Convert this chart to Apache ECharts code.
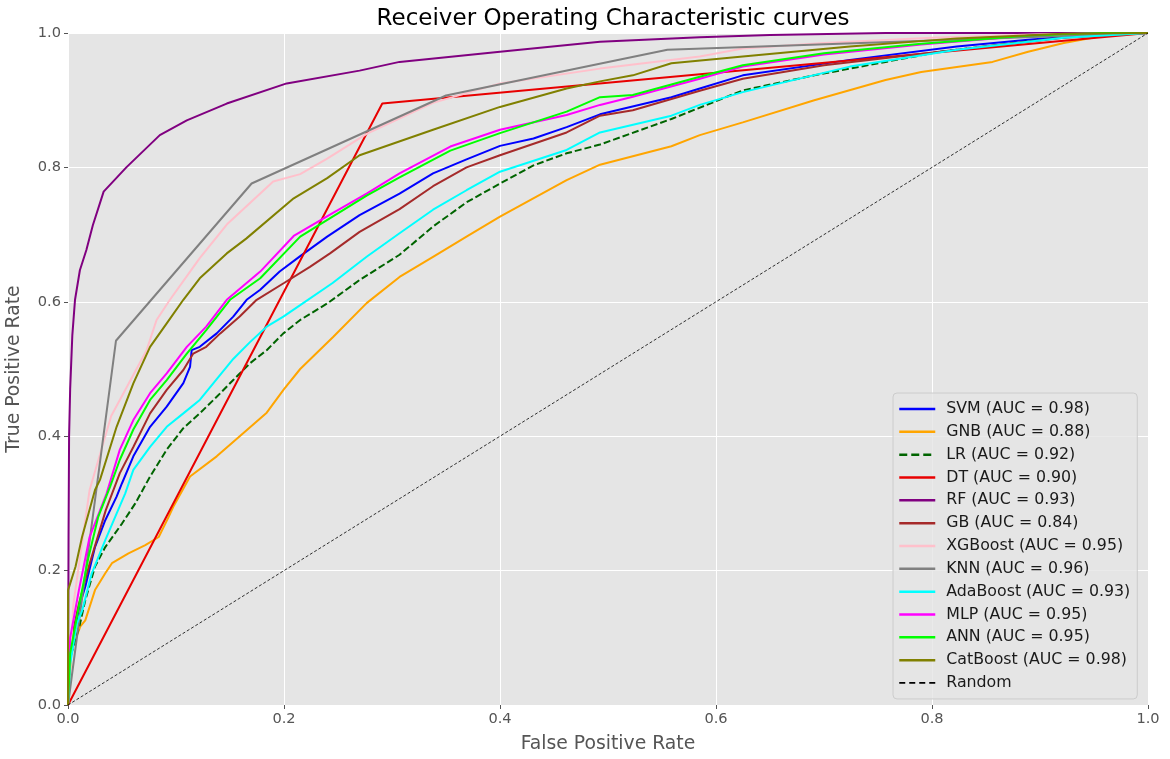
<!DOCTYPE html>
<html>
<head>
<meta charset="utf-8">
<script src="https://cdn.jsdelivr.net/npm/echarts@6/dist/echarts.min.js"></script>
<style>
  html, body { margin: 0; padding: 0; background: #ffffff; }
  #chart { width: 1170px; height: 759px; }
</style>
</head>
<body>
<div id="chart"></div>
<script>
const chartTitle = 'Receiver Operating Characteristic curves';
const xAxisTitle = 'False Positive Rate';
const yAxisTitle = 'True Positive Rate';
const tickValues = [0, 0.2, 0.4, 0.6, 0.8, 1.0];

const modelNames = ['SVM', 'GNB', 'LR', 'DT', 'RF', 'GB', 'XGBoost', 'KNN', 'AdaBoost', 'MLP', 'ANN', 'CatBoost'];
const aucValues = [0.98, 0.88, 0.92, 0.90, 0.93, 0.84, 0.95, 0.96, 0.93, 0.95, 0.95, 0.98];

const svmFpr = [0, 0.002, 0.011, 0.016, 0.025, 0.0345, 0.045, 0.05, 0.0605, 0.076, 0.0914, 0.1068, 0.113, 0.1145, 0.122, 0.1377, 0.153, 0.1654, 0.178, 0.196, 0.215, 0.24, 0.27, 0.307, 0.338, 0.369, 0.4, 0.431, 0.4617, 0.4926, 0.5587, 0.585, 0.6248, 0.724, 0.823, 0.889, 0.956, 1];
const svmTpr = [0, 0.08, 0.15, 0.176, 0.235, 0.275, 0.31, 0.33, 0.37, 0.414, 0.444, 0.479, 0.503, 0.528, 0.533, 0.553, 0.578, 0.603, 0.618, 0.645, 0.668, 0.697, 0.729, 0.761, 0.791, 0.812, 0.832, 0.843, 0.86, 0.879, 0.9045, 0.9175, 0.937, 0.96, 0.98, 0.99, 0.998, 1];

const gnbFpr = [0, 0.003, 0.0114, 0.016, 0.025, 0.0345, 0.0407, 0.056, 0.0716, 0.084, 0.0932, 0.0975, 0.113, 0.1377, 0.159, 0.184, 0.2, 0.215, 0.2457, 0.2765, 0.307, 0.338, 0.369, 0.4, 0.4617, 0.4926, 0.5587, 0.585, 0.6248, 0.691, 0.757, 0.79, 0.856, 0.889, 0.922, 0.956, 0.989, 1];
const gnbTpr = [0, 0.08, 0.117, 0.126, 0.171, 0.196, 0.211, 0.2257, 0.238, 0.25, 0.28, 0.295, 0.34, 0.37, 0.40, 0.435, 0.47, 0.5, 0.548, 0.598, 0.637, 0.667, 0.697, 0.7266, 0.781, 0.804, 0.8315, 0.848, 0.867, 0.9, 0.93, 0.942, 0.957, 0.972, 0.985, 0.995, 1, 1];

const lrFpr = [0, 0.002, 0.011, 0.016, 0.025, 0.0345, 0.05, 0.0623, 0.076, 0.0914, 0.1068, 0.122, 0.1377, 0.153, 0.1685, 0.184, 0.1994, 0.215, 0.24, 0.27, 0.307, 0.338, 0.369, 0.4, 0.431, 0.4617, 0.4926, 0.5587, 0.6248, 0.691, 0.757, 0.807, 0.889, 0.956, 1];
const lrTpr = [0, 0.07, 0.12, 0.156, 0.206, 0.235, 0.27, 0.30, 0.34, 0.38, 0.412, 0.434, 0.4586, 0.4836, 0.5085, 0.528, 0.553, 0.573, 0.5975, 0.6324, 0.67, 0.712, 0.748, 0.776, 0.803, 0.821, 0.834, 0.872, 0.9146, 0.937, 0.957, 0.972, 0.9875, 0.999, 1];

const dtFpr = [0, 0.291, 1];
const dtTpr = [0, 0.895, 1];

const rfFpr = [0, 0.0005, 0.001, 0.002, 0.004, 0.0065, 0.011, 0.017, 0.023, 0.033, 0.054, 0.085, 0.11, 0.147, 0.2025, 0.27, 0.307, 0.4, 0.4926, 0.585, 0.65, 0.757, 1];
const rfTpr = [0, 0.25, 0.4, 0.47, 0.55, 0.603, 0.647, 0.677, 0.714, 0.764, 0.80, 0.848, 0.87, 0.895, 0.925, 0.944, 0.957, 0.972, 0.987, 0.9935, 0.997, 1, 1];

const gbFpr = [0, 0.002, 0.01, 0.02, 0.035, 0.048, 0.0605, 0.076, 0.0914, 0.1068, 0.116, 0.128, 0.141, 0.159, 0.1747, 0.2, 0.224, 0.2426, 0.27, 0.307, 0.338, 0.369, 0.4, 0.4617, 0.4926, 0.523, 0.585, 0.6248, 0.7, 0.823, 0.922, 1];
const gbTpr = [0, 0.09, 0.15, 0.21, 0.29, 0.345, 0.384, 0.434, 0.469, 0.4985, 0.523, 0.533, 0.553, 0.578, 0.603, 0.628, 0.652, 0.672, 0.704, 0.738, 0.772, 0.8, 0.818, 0.852, 0.877, 0.885, 0.914, 0.932, 0.952, 0.975, 0.993, 1];

const xgbFpr = [0, 0.005, 0.02, 0.04, 0.0728, 0.082, 0.0944, 0.122, 0.147, 0.19, 0.215, 0.24, 0.2765, 0.338, 0.4, 0.4926, 0.585, 0.6248, 0.7, 0.8, 0.9, 1];
const xgbTpr = [0, 0.15, 0.32, 0.43, 0.528, 0.573, 0.603, 0.665, 0.715, 0.779, 0.79, 0.813, 0.85, 0.896, 0.925, 0.947, 0.965, 0.977, 0.985, 0.993, 0.998, 1];

const knnFpr = [0, 0.0444, 0.17, 0.35, 0.555, 1];
const knnTpr = [0, 0.542, 0.776, 0.907, 0.975, 1];

const adaFpr = [0, 0.002, 0.008, 0.013, 0.022, 0.0345, 0.053, 0.0605, 0.076, 0.0914, 0.1068, 0.122, 0.1377, 0.153, 0.1685, 0.184, 0.1994, 0.215, 0.245, 0.2765, 0.307, 0.338, 0.369, 0.4, 0.4617, 0.4926, 0.5587, 0.585, 0.6248, 0.724, 0.823, 0.922, 1];
const adaTpr = [0, 0.06, 0.12, 0.14, 0.196, 0.2455, 0.315, 0.35, 0.384, 0.414, 0.434, 0.454, 0.485, 0.515, 0.54, 0.563, 0.578, 0.595, 0.628, 0.667, 0.702, 0.737, 0.766, 0.7936, 0.826, 0.852, 0.877, 0.893, 0.912, 0.95, 0.975, 0.993, 1];

const mlpFpr = [0, 0.002, 0.01, 0.02, 0.0358, 0.048, 0.0605, 0.076, 0.0914, 0.11, 0.128, 0.147, 0.178, 0.209, 0.245, 0.2765, 0.307, 0.354, 0.4, 0.4617, 0.4926, 0.523, 0.585, 0.6248, 0.7, 0.79, 0.889, 0.956, 1];
const mlpTpr = [0, 0.1, 0.17, 0.25, 0.315, 0.38, 0.424, 0.464, 0.4935, 0.533, 0.563, 0.603, 0.645, 0.698, 0.732, 0.761, 0.791, 0.831, 0.856, 0.878, 0.893, 0.905, 0.932, 0.95, 0.968, 0.983, 0.996, 1, 1];

const annFpr = [0, 0.002, 0.01, 0.019, 0.028, 0.039, 0.048, 0.0605, 0.076, 0.0914, 0.11, 0.128, 0.15, 0.178, 0.215, 0.2765, 0.307, 0.354, 0.4, 0.4617, 0.4926, 0.523, 0.585, 0.6248, 0.7, 0.79, 0.889, 0.956, 1];
const annTpr = [0, 0.077, 0.146, 0.22, 0.28, 0.325, 0.365, 0.41, 0.454, 0.4836, 0.523, 0.558, 0.603, 0.635, 0.697, 0.758, 0.785, 0.825, 0.851, 0.883, 0.9045, 0.9077, 0.935, 0.952, 0.97, 0.984, 0.996, 1, 1];

const catFpr = [0, 0.0001, 0.007, 0.013, 0.019, 0.025, 0.0296, 0.045, 0.0605, 0.076, 0.0914, 0.1068, 0.122, 0.147, 0.165, 0.209, 0.24, 0.27, 0.338, 0.4, 0.4617, 0.4926, 0.523, 0.5587, 0.6248, 0.724, 0.823, 0.922, 1];
const catTpr = [0, 0.171, 0.206, 0.25, 0.285, 0.32, 0.335, 0.414, 0.4786, 0.533, 0.568, 0.603, 0.635, 0.672, 0.694, 0.754, 0.784, 0.818, 0.856, 0.89, 0.9175, 0.928, 0.937, 0.955, 0.965, 0.98, 0.992, 0.999, 1];

const randomFpr = [0, 1];
const randomTpr = [0, 1];

const fprList = [svmFpr, gnbFpr, lrFpr, dtFpr, rfFpr, gbFpr, xgbFpr, knnFpr, adaFpr, mlpFpr, annFpr, catFpr];
const tprList = [svmTpr, gnbTpr, lrTpr, dtTpr, rfTpr, gbTpr, xgbTpr, knnTpr, adaTpr, mlpTpr, annTpr, catTpr];

const colors = ['#0000ff', '#ffa500', '#006400', '#e80000', '#800080', '#a52a2a', '#ffc0cb', '#808080', '#00ffff', '#ff00ff', '#00ff00', '#808000'];
const lineTypes = ['solid', 'solid', [7, 3], 'solid', 'solid', 'solid', 'solid', 'solid', 'solid', 'solid', 'solid', 'solid'];

const pairs = (xs, ys) => xs.map((x, i) => [x, ys[i]]);

const series = modelNames.map((name, i) => ({
  name: name + ' (AUC = ' + aucValues[i].toFixed(2) + ')',
  type: 'line',
  data: pairs(fprList[i], tprList[i]),
  symbol: 'none',
  showSymbol: false,
  smooth: false,
  lineStyle: { color: colors[i], width: 2, type: lineTypes[i] },
  itemStyle: { color: colors[i] },
  z: 2 + i,
  animation: false
}));
series.push({
  name: 'Random',
  type: 'line',
  data: pairs(randomFpr, randomTpr),
  symbol: 'none',
  showSymbol: false,
  lineStyle: { color: '#000000', width: 0.8, type: [3, 2] },
  itemStyle: { color: '#000000' },
  z: 20,
  animation: false
});

const fontFamily = 'DejaVu Sans';
const legendData = series.map(s => {
  if (s.name === 'Random') {
    return { name: s.name, lineStyle: { color: '#000000', width: 1.8, type: [6, 4] } };
  }
  if (s.name.indexOf('LR ') === 0) {
    return { name: s.name, lineStyle: { color: '#006400', width: 2.5, type: [8, 4] } };
  }
  return { name: s.name, lineStyle: { width: 2.5 } };
});

const chart = echarts.init(document.getElementById('chart'), null, { renderer: 'canvas' });
chart.setOption({
  animation: false,
  backgroundColor: '#ffffff',
  title: {
    text: chartTitle,
    left: 608,
    textAlign: 'center',
    top: 3,
    textStyle: { fontFamily, fontSize: 23, fontWeight: 'normal', color: '#000000' }
  },
  grid: {
    left: 68, right: 22, top: 33, bottom: 54,
    containLabel: false,
    outerBoundsMode: 'none',
    show: true, backgroundColor: '#E5E5E5', borderWidth: 0
  },
  legend: {
    orient: 'vertical',
    left: 893,
    top: 393,
    padding: [8, 7, 8, 5],
    itemWidth: 36,
    itemHeight: 14,
    itemGap: 6.83,
    backgroundColor: 'rgba(229,229,229,0.8)',
    borderColor: '#cccccc',
    borderWidth: 1,
    borderRadius: 4,
    itemStyle: { opacity: 0 },
    formatter: name => '{t|' + name + '}',
    textStyle: {
      fontFamily, fontSize: 15.8, color: '#1a1a1a', lineHeight: 14,
      rich: { t: { fontFamily, fontSize: 15.8, color: '#1a1a1a', lineHeight: 14, padding: [0, 0, 0, 6] } }
    },
    data: legendData
  },
  xAxis: {
    type: 'value', min: 0, max: 1, interval: 0.2,
    name: xAxisTitle, nameLocation: 'middle', nameGap: 30,
    nameTextStyle: { fontFamily, fontSize: 18.8, color: '#555555' },
    axisLine: { show: false },
    axisTick: { show: true, length: 4, lineStyle: { color: '#555555' } },
    axisLabel: { fontFamily, fontSize: 14.6, color: '#555555', margin: 7, formatter: v => tickValues.includes(+v.toFixed(1)) ? v.toFixed(1) : '' },
    splitLine: { show: true, lineStyle: { color: '#ffffff', width: 1 } }
  },
  yAxis: {
    type: 'value', min: 0, max: 1, interval: 0.2,
    name: yAxisTitle, nameLocation: 'middle', nameGap: 44, nameRotate: 90,
    nameTextStyle: { fontFamily, fontSize: 18.8, color: '#555555' },
    axisLine: { show: false },
    axisTick: { show: true, length: 4, lineStyle: { color: '#555555' } },
    axisLabel: { fontFamily, fontSize: 14.6, color: '#555555', margin: 7, formatter: v => v.toFixed(1) },
    splitLine: { show: true, lineStyle: { color: '#ffffff', width: 1 } }
  },
  series: series
});
</script>
</body>
</html>
